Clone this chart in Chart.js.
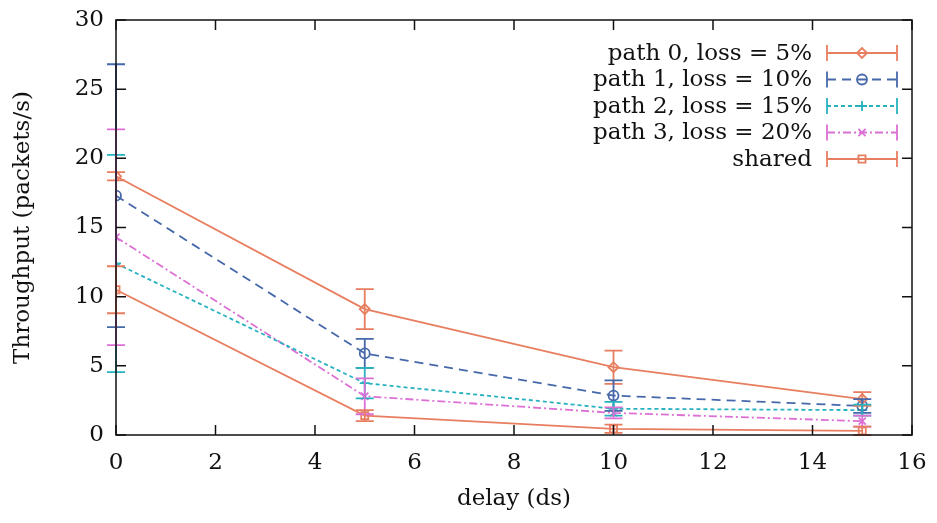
<!DOCTYPE html>
<html>
<head>
<meta charset="utf-8">
<script src="https://cdn.jsdelivr.net/npm/chart.js@4.4.1/dist/chart.umd.min.js"></script>
<style>
  html, body { margin: 0; padding: 0; background: #fff; }
  #wrap { width: 937px; height: 523px; }
</style>
</head>
<body>
<div id="wrap"><canvas id="chart" width="937" height="523"></canvas></div>
<script>
// delay (ds) on the x axis
const delays = [0, 5, 10, 15];

// throughput means and error half-widths
const path0 = [18.7, 9.1, 4.9, 2.6];
const path0Err = [0.3, 1.45, 1.2, 0.5];
const path1 = [17.3, 5.9, 2.85, 2.1];
const path1Err = [9.5, 1.05, 1.1, 0.5];
const path2 = [12.4, 3.75, 1.9, 1.8];
const path2Err = [7.85, 1.1, 0.5, 0.4];
const path3 = [14.3, 2.8, 1.6, 1.0];
const path3Err = [7.8, 1.3, 0.4, 0.4];
const shared = [10.5, 1.4, 0.45, 0.3];
const sharedErr = [1.7, 0.4, 0.3, 0.3];

const seriesLabels = [
  "path 0, loss = 5%",
  "path 1, loss = 10%",
  "path 2, loss = 15%",
  "path 3, loss = 20%",
  "shared"
];

const xTicks = [0, 2, 4, 6, 8, 10, 12, 14, 16];
const yTicks = [0, 5, 10, 15, 20, 25, 30];

const FONT = "'DejaVu Serif', 'Liberation Serif', serif";
const FSIZE = 23;
const LW = 1.8;

const salmon = "rgb(232, 126, 96)";
const blue = "rgb(70, 104, 170)";
const teal = "rgb(40, 178, 192)";
const pink = "rgb(220, 112, 212)";

function points(values, errs) {
  return delays.map((d, i) => ({ x: d, y: values[i], err: errs[i] }));
}

function makeSet(label, values, errs, color, dash, style, rot) {
  return {
    label: label,
    data: points(values, errs),
    borderColor: color,
    backgroundColor: "rgba(0,0,0,0)",
    borderWidth: LW,
    borderDash: dash,
    pointStyle: style,
    pointRotation: rot || 0,
    pointRadius: 5,
    pointBorderWidth: LW,
    pointBorderColor: color,
    pointBackgroundColor: "rgba(0,0,0,0)",
    tension: 0
  };
}

const datasets = [
  makeSet(seriesLabels[0], path0, path0Err, salmon, [], "rectRot"),
  makeSet(seriesLabels[1], path1, path1Err, blue, [9, 6], "circle"),
  makeSet(seriesLabels[2], path2, path2Err, teal, [4, 3], "cross"),
  makeSet(seriesLabels[3], path3, path3Err, pink, [8, 3, 2, 3], "crossRot"),
  makeSet(seriesLabels[4], shared, sharedErr, salmon, [], "rect")
];

// vertical error bars with caps, positioned through the chart scales
const errorBars = {
  id: "errorBars",
  afterDatasetsDraw(chart) {
    const ctx = chart.ctx;
    const xs = chart.scales.x, ys = chart.scales.y;
    chart.data.datasets.forEach(ds => {
      ctx.save();
      ctx.strokeStyle = ds.borderColor;
      ctx.lineWidth = LW;
      ctx.setLineDash([]);
      ds.data.forEach(p => {
        const px = xs.getPixelForValue(p.x);
        const top = ys.getPixelForValue(p.y + p.err);
        const bot = ys.getPixelForValue(Math.max(0, p.y - p.err));
        ctx.beginPath();
        ctx.moveTo(px, top); ctx.lineTo(px, bot);
        ctx.moveTo(px - 9, top); ctx.lineTo(px + 9, top);
        ctx.moveTo(px - 9, bot); ctx.lineTo(px + 9, bot);
        ctx.stroke();
      });
      ctx.restore();
    });
  }
};

// gnuplot style frame with inward ticks on all sides, plus the legend
const frameAndLegend = {
  id: "frameAndLegend",
  afterDraw(chart) {
    const ctx = chart.ctx;
    const a = chart.chartArea;
    const xs = chart.scales.x, ys = chart.scales.y;
    ctx.save();
    ctx.strokeStyle = "#111";
    ctx.lineWidth = 1.5;
    ctx.setLineDash([]);
    ctx.strokeRect(a.left, a.top, a.right - a.left, a.bottom - a.top);
    ctx.beginPath();
    xTicks.forEach(v => {
      const px = xs.getPixelForValue(v);
      ctx.moveTo(px, a.bottom); ctx.lineTo(px, a.bottom - 10);
      ctx.moveTo(px, a.top); ctx.lineTo(px, a.top + 10);
    });
    yTicks.forEach(v => {
      const py = ys.getPixelForValue(v);
      ctx.moveTo(a.left, py); ctx.lineTo(a.left + 10, py);
      ctx.moveTo(a.right, py); ctx.lineTo(a.right - 10, py);
    });
    ctx.stroke();

    // legend: text right aligned, sample line with caps and marker
    const textRight = a.right - 100;
    const x0 = a.right - 85, x1 = a.right - 15;
    ctx.font = FSIZE + "px " + FONT;
    ctx.textAlign = "right";
    ctx.textBaseline = "middle";
    chart.data.datasets.forEach((ds, i) => {
      const y = a.top + 33 + i * 26.5;
      ctx.fillStyle = "#111";
      ctx.fillText(ds.label, textRight, y + 1);
      ctx.strokeStyle = ds.borderColor;
      ctx.lineWidth = LW;
      ctx.setLineDash(ds.borderDash);
      ctx.beginPath();
      ctx.moveTo(x0, y); ctx.lineTo(x1, y);
      ctx.stroke();
      ctx.setLineDash([]);
      ctx.beginPath();
      ctx.moveTo(x0, y - 8); ctx.lineTo(x0, y + 8);
      ctx.moveTo(x1, y - 8); ctx.lineTo(x1, y + 8);
      ctx.stroke();
      ctx.fillStyle = "rgba(0,0,0,0)";
      Chart.helpers.drawPoint(ctx, {
        pointStyle: ds.pointStyle,
        radius: 5,
        rotation: ds.pointRotation,
        borderWidth: LW
      }, (x0 + x1) / 2, y);
    });
    ctx.restore();
  }
};

new Chart(document.getElementById("chart"), {
  type: "line",
  data: { datasets: datasets },
  plugins: [errorBars, frameAndLegend],
  options: {
    responsive: false,
    animation: false,
    layout: { autoPadding: false, padding: { left: 0, right: 25, top: 20, bottom: 0 } },
    plugins: {
      legend: { display: false },
      tooltip: { enabled: false }
    },
    scales: {
      x: {
        type: "linear",
        min: 0,
        max: 16,
        afterBuildTicks: s => { s.ticks = xTicks.map(v => ({ value: v })); },
        afterFit: s => { s.height = 88; s.paddingLeft = 0; s.paddingRight = 0; },
        grid: { display: false },
        border: { display: false },
        ticks: { color: "#111", font: { family: FONT, size: FSIZE }, padding: 6, maxRotation: 0 },
        title: {
          display: true,
          text: "delay (ds)",
          color: "#111",
          font: { family: FONT, size: FSIZE },
          padding: { top: 0, bottom: 10 }
        }
      },
      y: {
        min: 0,
        max: 30,
        afterBuildTicks: s => { s.ticks = yTicks.map(v => ({ value: v })); },
        afterFit: s => { s.width = 116; s.paddingTop = 0; s.paddingBottom = 0; },
        grid: { display: false },
        border: { display: false },
        ticks: { color: "#111", font: { family: FONT, size: FSIZE }, padding: 4 },
        title: {
          display: true,
          text: "Throughput (packets/s)",
          color: "#111",
          font: { family: FONT, size: FSIZE },
          padding: { top: 9, bottom: 0 }
        }
      }
    }
  }
});
</script>
</body>
</html>
